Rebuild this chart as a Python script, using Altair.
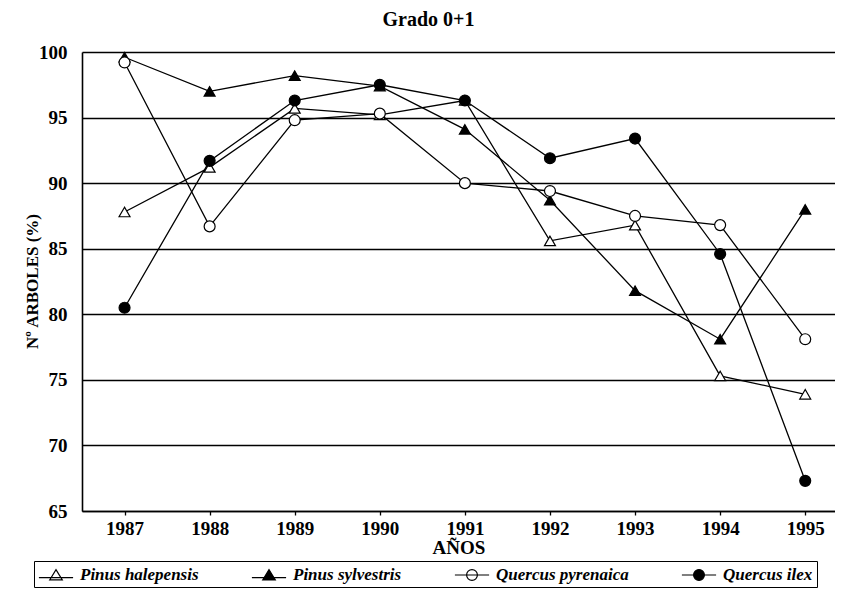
import altair as alt
import pandas as pd

years = [1987, 1988, 1989, 1990, 1991, 1992, 1993, 1994, 1995]
species = ["Pinus halepensis", "Pinus sylvestris", "Quercus pyrenaica", "Quercus ilex"]
halepensis = [87.8, 91.2, 95.7, 95.2, 96.3, 85.6, 86.8, 75.3, 73.9]
sylvestris = [99.6, 97.0, 98.2, 97.4, 94.1, 88.7, 81.8, 78.1, 88.0]
pyrenaica = [99.2, 86.7, 94.8, 95.3, 90.0, 89.4, 87.5, 86.8, 78.1]
ilex = [80.5, 91.7, 96.3, 97.5, 96.3, 91.9, 93.4, 84.6, 67.3]
y_ticks = [65, 70, 75, 80, 85, 90, 95, 100]

series = [halepensis, sylvestris, pyrenaica, ilex]
marker_shapes = ["triangle-up", "triangle-up", "circle", "circle"]
marker_fills = ["white", "black", "white", "black"]

tri = "M-1.9,0.3H1.9M-0.7,0.55L0,-0.6L0.7,0.55Z"
circ = "M-1.9,0H1.9M-0.6,0A0.6,0.6 0 1,0 0.6,0A0.6,0.6 0 1,0 -0.6,0Z"
legend_paths = [tri, tri, circ, circ]
legend_fills = ["transparent", "black", "transparent", "black"]

rows = []
for sp, vals, shp, fl in zip(species, series, marker_shapes, marker_fills):
    for yr, v in zip(years, vals):
        rows.append({"year": yr, "value": v, "species": sp, "shape": shp, "fill": fl})
df = pd.DataFrame(rows)

leg_df = pd.DataFrame({"species": species, "year": [1990] * 4, "value": [0] * 4})

FONT = "Liberation Serif"

x = alt.X(
    "year:Q",
    scale=alt.Scale(domain=[1986.5, 1995.35], nice=False, zero=False),
    axis=alt.Axis(values=years, format="d", title="AÑOS", grid=False,
                  tickSize=4, labelPadding=4, titleFontSize=19,
                  titleY=27, titleBaseline="top"),
)
y = alt.Y(
    "value:Q",
    scale=alt.Scale(domain=[65, 100], nice=False, zero=False),
    axis=alt.Axis(values=y_ticks, title="Nº ARBOLES (%)", grid=True,
                  gridColor="black", gridWidth=1.6, ticks=False,
                  labelPadding=15, titleFontSize=17, titleX=-41, titleY=229),
)

lines = alt.Chart(df).mark_line(color="black", strokeWidth=1.3).encode(
    x=x, y=y, detail="species:N"
)
points = alt.Chart(df).mark_point(
    filled=True, stroke="black", strokeWidth=1.2, opacity=1, size=120
).encode(
    x=x, y=y,
    shape=alt.Shape("shape:N", scale=None),
    fill=alt.Fill("fill:N", scale=None),
)

leg = alt.Legend(
    title=None, orient="none", legendX=-48, legendY=509, direction="horizontal",
    strokeColor="black", padding=4, fillColor="white",
    labelFont=FONT, labelFontStyle="italic", labelFontWeight="bold",
    labelFontSize=17, labelColor="black", columnPadding=50,
    labelOffset=14, symbolOffset=8,
    symbolSize=324, symbolStrokeColor="black", symbolStrokeWidth=1.2,
)
legend_layer = alt.Chart(leg_df).mark_point(
    filled=True, stroke="black", strokeWidth=1.2, opacity=1, clip=True
).encode(
    x=x, y=y,
    shape=alt.Shape("species:N", scale=alt.Scale(domain=species, range=legend_paths), legend=leg),
    fill=alt.Fill("species:N", scale=alt.Scale(domain=species, range=legend_fills), legend=leg),
)

chart = alt.layer(lines, points, legend_layer).properties(
    width=753, height=459,
    autosize=alt.AutoSizeParams(type="none"),
    padding={"left": 74, "top": 44, "right": 0, "bottom": 80},
    title=alt.TitleParams("Grado 0+1", font=FONT, fontSize=20, fontWeight="bold",
                          color="black", offset=13, dx=-30),
).configure_view(stroke=None).configure_axis(
    labelFont=FONT, labelFontWeight="bold", labelFontSize=19, labelColor="black",
    titleFont=FONT, titleFontWeight="bold", titleColor="black",
    domainColor="black", domainWidth=1.6, tickColor="black", tickWidth=1.3,
)

chart.save("out.html", embed_options={"renderer": "svg", "actions": False})
